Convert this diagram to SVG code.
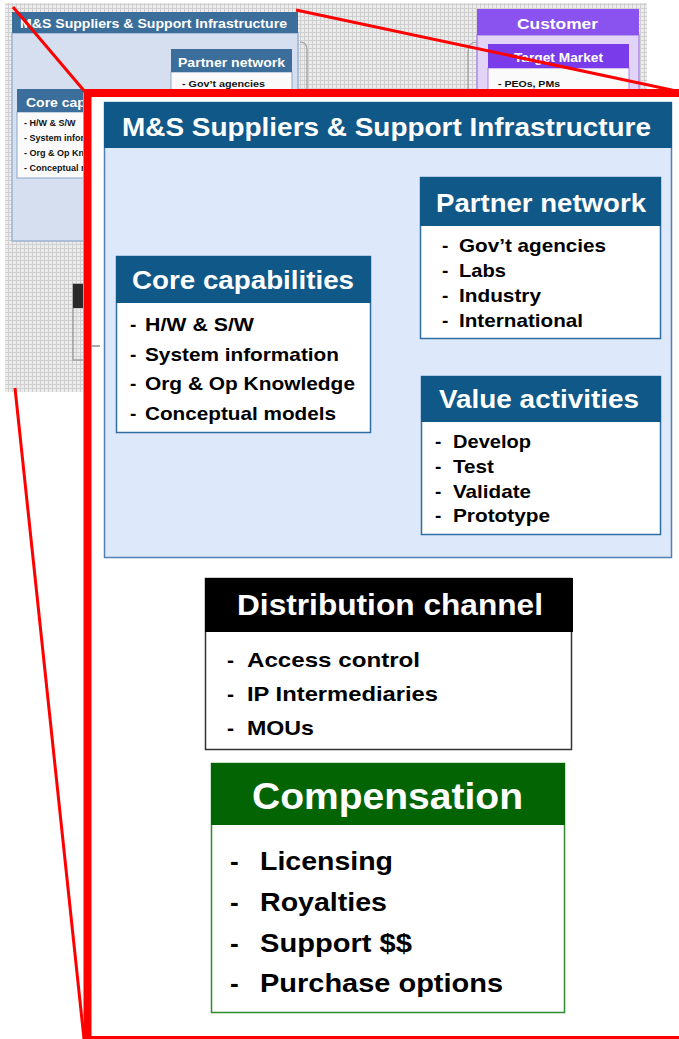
<svg xmlns="http://www.w3.org/2000/svg" width="679" height="1039" viewBox="0 0 679 1039">
<defs>
<pattern id="grid" width="4" height="4" patternUnits="userSpaceOnUse">
<rect width="4" height="4" fill="#ececec"/>
<path d="M0,0.5H4M0.5,0V4" stroke="#cfcfcf" stroke-width="1"/>
</pattern>
<clipPath id="outside"><path d="M0,0H679V89H83V1039H0Z"/></clipPath>
<style>
text{font-family:"Liberation Sans",Arial,sans-serif}
.th{fill:#fff;font-weight:bold}
.ti{fill:#111;font-weight:bold}
.hd{fill:#fff;font-weight:bold}
.it{fill:#000;font-weight:bold}
.bluebox{fill:#fff;stroke:#2f6ea3;stroke-width:1.5}
.bluehd{fill:#0f5888}
.red{stroke:#ff0000;fill:none}
</style>
</defs>

<!-- background thumbnail -->
<g id="thumbnail" clip-path="url(#outside)">
<rect x="5" y="3" width="642" height="389" fill="url(#grid)"/>
<g id="thumb-ms">
<rect x="12" y="33" width="286" height="208" fill="#d6dff0" stroke="#9db3cf" stroke-width="1.5"/>
<rect x="12" y="12" width="286" height="21" fill="#3c6e9b"/>
<text x="20" y="28" font-size="13" class="th" textLength="267" lengthAdjust="spacingAndGlyphs">M&amp;S Suppliers &amp; Support Infrastructure</text>
</g>
<g id="thumb-partner">
<rect x="171" y="72" width="121" height="60" fill="#fafafa" stroke="#8aa6c4"/>
<rect x="171" y="49" width="121" height="23" fill="#3c6e9b"/>
<text x="178" y="67" font-size="12" class="th" textLength="107" lengthAdjust="spacingAndGlyphs">Partner network</text>
<text x="182" y="87" font-size="9" class="ti" textLength="83" lengthAdjust="spacingAndGlyphs">- Gov’t agencies</text>
</g>
<g id="thumb-core">
<rect x="17" y="112" width="129" height="66" fill="#fafafa" stroke="#8aa6c4"/>
<rect x="17" y="89" width="129" height="23" fill="#3c6e9b"/>
<text x="26" y="107" font-size="13" class="th" textLength="112" lengthAdjust="spacingAndGlyphs">Core capabilities</text>
<text x="24" y="126" font-size="9" class="ti">- H/W &amp; S/W</text>
<text x="24" y="141" font-size="9" class="ti">- System information</text>
<text x="24" y="156" font-size="9" class="ti">- Org &amp; Op Knowledge</text>
<text x="24" y="171" font-size="9" class="ti">- Conceptual models</text>
</g>
<g id="thumb-customer">
<rect x="477" y="35" width="162" height="80" fill="#e2d4f6" stroke="#ad8ae6" stroke-width="1.5"/>
<rect x="477" y="9" width="162" height="26" fill="#8a52ee"/>
<text x="517" y="29" font-size="15" class="th" textLength="81" lengthAdjust="spacingAndGlyphs">Customer</text>
</g>
<g id="thumb-target">
<rect x="488" y="68" width="141" height="40" fill="#fafafa" stroke="#a785e4"/>
<rect x="488" y="44" width="141" height="24" fill="#7a3cea"/>
<text x="514" y="62" font-size="12" class="th" textLength="89" lengthAdjust="spacingAndGlyphs">Target Market</text>
<text x="498" y="87" font-size="9" class="ti" textLength="62" lengthAdjust="spacingAndGlyphs">- PEOs, PMs</text>
</g>
<g id="thumb-brackets" fill="none" stroke="#9a9a9a" stroke-width="1.2">
<path d="M300,42Q307,42 307,50V95"/>
<path d="M477,42Q468,42 468,52V95"/>
</g>
<g id="thumb-dist">
<rect x="73" y="284" width="40" height="76" fill="none" stroke="#a0a0a0" stroke-width="1.5"/>
<rect x="73" y="284" width="40" height="24" fill="#2a2a2a"/>
</g>
</g>

<!-- zoom frame -->
<g id="zoom-frame">
<rect x="87.5" y="93" width="700" height="947" class="red" style="fill:#fff" stroke-width="8"/>
<line x1="92" y1="346" x2="100" y2="346" stroke="#555" stroke-width="1"/>
</g>

<g id="connectors" class="red" stroke-width="3">
<line x1="13" y1="7" x2="86" y2="93"/>
<line x1="296" y1="10" x2="679" y2="91.5"/>
<line x1="15" y1="388" x2="84" y2="1039"/>
</g>

<!-- main content -->
<g id="ms-infrastructure">
<rect x="104.5" y="102.5" width="567" height="455" fill="#dee8fb" stroke="#4f81b5" stroke-width="1.5"/>
<rect x="104" y="102" width="568" height="46" class="bluehd"/>
<text x="122" y="136" font-size="26" class="hd" textLength="529" lengthAdjust="spacingAndGlyphs">M&amp;S Suppliers &amp; Support Infrastructure</text>
</g>

<g id="partner-network">
<rect x="420.5" y="177.5" width="240" height="161" class="bluebox"/>
<rect x="420" y="177" width="241" height="49" class="bluehd"/>
<text x="436" y="212" font-size="26" class="hd" textLength="210" lengthAdjust="spacingAndGlyphs">Partner network</text>
<text font-size="19" class="it"><tspan x="442" y="252">-</tspan><tspan x="459" y="252" textLength="147" lengthAdjust="spacingAndGlyphs">Gov’t agencies</tspan></text>
<text font-size="19" class="it"><tspan x="442" y="277">-</tspan><tspan x="459" y="277" textLength="47" lengthAdjust="spacingAndGlyphs">Labs</tspan></text>
<text font-size="19" class="it"><tspan x="442" y="302">-</tspan><tspan x="459" y="302" textLength="82" lengthAdjust="spacingAndGlyphs">Industry</tspan></text>
<text font-size="19" class="it"><tspan x="442" y="327">-</tspan><tspan x="459" y="327" textLength="124" lengthAdjust="spacingAndGlyphs">International</tspan></text>
</g>

<g id="core-capabilities">
<rect x="116.5" y="256.5" width="254" height="176" class="bluebox"/>
<rect x="116" y="256" width="255" height="47" class="bluehd"/>
<text x="132" y="289" font-size="25" class="hd" textLength="222" lengthAdjust="spacingAndGlyphs">Core capabilities</text>
<text font-size="19" class="it"><tspan x="130" y="331">-</tspan><tspan x="145" y="331" textLength="109" lengthAdjust="spacingAndGlyphs">H/W &amp; S/W</tspan></text>
<text font-size="19" class="it"><tspan x="130" y="361">-</tspan><tspan x="145" y="361" textLength="194" lengthAdjust="spacingAndGlyphs">System information</tspan></text>
<text font-size="19" class="it"><tspan x="130" y="390">-</tspan><tspan x="145" y="390" textLength="210" lengthAdjust="spacingAndGlyphs">Org &amp; Op Knowledge</tspan></text>
<text font-size="19" class="it"><tspan x="130" y="420">-</tspan><tspan x="145" y="420" textLength="191" lengthAdjust="spacingAndGlyphs">Conceptual models</tspan></text>
</g>

<g id="value-activities">
<rect x="421.5" y="376.5" width="239" height="158" class="bluebox"/>
<rect x="421" y="376" width="240" height="46" class="bluehd"/>
<text x="439" y="408" font-size="25" class="hd" textLength="200" lengthAdjust="spacingAndGlyphs">Value activities</text>
<text font-size="19" class="it"><tspan x="435" y="448">-</tspan><tspan x="453" y="448" textLength="78" lengthAdjust="spacingAndGlyphs">Develop</tspan></text>
<text font-size="19" class="it"><tspan x="435" y="473">-</tspan><tspan x="453" y="473" textLength="41" lengthAdjust="spacingAndGlyphs">Test</tspan></text>
<text font-size="19" class="it"><tspan x="435" y="498">-</tspan><tspan x="453" y="498" textLength="78" lengthAdjust="spacingAndGlyphs">Validate</tspan></text>
<text font-size="19" class="it"><tspan x="435" y="522">-</tspan><tspan x="453" y="522" textLength="97" lengthAdjust="spacingAndGlyphs">Prototype</tspan></text>
</g>

<g id="distribution-channel">
<rect x="205.5" y="578.5" width="366" height="171" fill="#fff" stroke="#333" stroke-width="1.5"/>
<rect x="205" y="578" width="368" height="54" fill="#000"/>
<text x="237" y="615" font-size="30" class="hd" textLength="306" lengthAdjust="spacingAndGlyphs">Distribution channel</text>
<text font-size="21" class="it"><tspan x="227" y="667">-</tspan><tspan x="247" y="667" textLength="173" lengthAdjust="spacingAndGlyphs">Access control</tspan></text>
<text font-size="21" class="it"><tspan x="227" y="701">-</tspan><tspan x="247" y="701" textLength="191" lengthAdjust="spacingAndGlyphs">IP Intermediaries</tspan></text>
<text font-size="21" class="it"><tspan x="227" y="735">-</tspan><tspan x="247" y="735" textLength="67" lengthAdjust="spacingAndGlyphs">MOUs</tspan></text>
</g>

<g id="compensation">
<rect x="211.5" y="763.5" width="353" height="249" fill="#fff" stroke="#2f8a2f" stroke-width="1.5"/>
<rect x="211" y="763" width="354" height="62" fill="#036403"/>
<text x="252" y="809" font-size="37" class="hd" textLength="271" lengthAdjust="spacingAndGlyphs">Compensation</text>
<text font-size="26" class="it"><tspan x="230" y="870">-</tspan><tspan x="260" y="870" textLength="133" lengthAdjust="spacingAndGlyphs">Licensing</tspan></text>
<text font-size="26" class="it"><tspan x="230" y="911">-</tspan><tspan x="260" y="911" textLength="127" lengthAdjust="spacingAndGlyphs">Royalties</tspan></text>
<text font-size="26" class="it"><tspan x="230" y="952">-</tspan><tspan x="260" y="952" textLength="152" lengthAdjust="spacingAndGlyphs">Support $$</tspan></text>
<text font-size="26" class="it"><tspan x="230" y="992">-</tspan><tspan x="260" y="992" textLength="243" lengthAdjust="spacingAndGlyphs">Purchase options</tspan></text>
</g>
</svg>
